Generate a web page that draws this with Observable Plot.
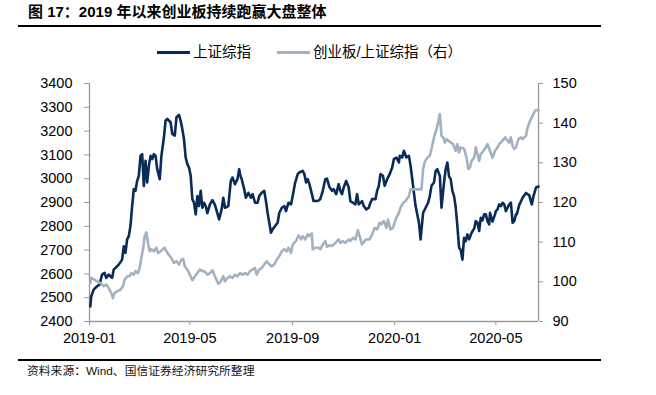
<!DOCTYPE html>
<html>
<head>
<meta charset="utf-8">
<script src="https://cdn.jsdelivr.net/npm/d3@7"></script>
<script src="https://cdn.jsdelivr.net/npm/@observablehq/plot@0.6"></script>
<style>
  body { margin: 0; background: #fff; }
  #wrap { position: relative; width: 656px; height: 395px; overflow: hidden; font-family: "Liberation Sans", Arial, "Noto Sans CJK SC", sans-serif; }
  #chart { position: absolute; left: 0; top: 0; z-index: 0; }
  .ov { position: absolute; z-index: 1; white-space: nowrap; }
  #title { left: 28px; top: 3px; font-size: 15px; line-height: 17px; font-weight: bold; color: #000; }
  .rule { left: 18px; width: 583px; height: 1.5px; background: #000; }
  .leg { top: 44px; font-size: 14.5px; line-height: 16px; color: #000; }
  .sw { position: absolute; height: 3px; }
  #src { left: 27px; top: 364px; font-size: 11.8px; line-height: 14px; color: #111; }
</style>
</head>
<body>
<div id="wrap">
  <div id="chart"></div>
  <div class="ov" id="title">图 17：2019 年以来创业板持续跑赢大盘整体</div>
  <div class="ov rule" style="top:25px"></div>
  <div class="ov sw" id="sw1" style="left:157px; top:51px; width:33px;"></div>
  <div class="ov leg" id="lg1" style="left:193px;"></div>
  <div class="ov sw" id="sw2" style="left:277px; top:51px; width:33px;"></div>
  <div class="ov leg" id="lg2" style="left:313px;"></div>
  <div class="ov rule" style="top:359px"></div>
  <div class="ov" id="src">资料来源：Wind、国信证券经济研究所整理</div>
</div>
<script>
// ---------- data ----------
const seriesNames = ["上证综指", "创业板/上证综指（右）"];
const seriesColors = ["#0a2a58", "#a3b2c2"];

const leftTicks = [2400, 2500, 2600, 2700, 2800, 2900, 3000, 3100, 3200, 3300, 3400];
const rightTicks = [90, 100, 110, 120, 130, 140, 150];
const xTickLabels = ["2019-01", "2019-05", "2019-09", "2020-01", "2020-05"];
const xStart = "2019-01-01";
const xEnd = "2020-06-21";

const shDates = [
"2019-01-02","2019-01-03","2019-01-06","2019-01-10","2019-01-13","2019-01-16","2019-01-19","2019-01-21","2019-01-24","2019-01-28",
"2019-01-30","2019-02-05","2019-02-09","2019-02-11","2019-02-13","2019-02-15","2019-02-17","2019-02-19","2019-02-21","2019-02-23",
"2019-02-25","2019-02-27","2019-03-01","2019-03-03","2019-03-05","2019-03-07","2019-03-09","2019-03-11","2019-03-13","2019-03-15",
"2019-03-17","2019-03-19","2019-03-21","2019-03-23","2019-03-26","2019-03-28","2019-03-31","2019-04-02","2019-04-04","2019-04-08",
"2019-04-10","2019-04-13","2019-04-15","2019-04-18","2019-04-20","2019-04-22","2019-04-24","2019-04-26","2019-04-28","2019-04-30",
"2019-05-02","2019-05-04","2019-05-06","2019-05-08","2019-05-10","2019-05-12","2019-05-14","2019-05-16","2019-05-18","2019-05-20",
"2019-05-22","2019-05-25","2019-05-28","2019-05-31","2019-06-01","2019-06-05","2019-06-08","2019-06-10","2019-06-12","2019-06-16",
"2019-06-19","2019-06-21","2019-06-24","2019-06-27","2019-06-29","2019-06-30","2019-07-02","2019-07-05","2019-07-07","2019-07-10",
"2019-07-13","2019-07-15","2019-07-18","2019-07-21","2019-07-23","2019-07-26","2019-07-29","2019-07-31","2019-08-02","2019-08-04",
"2019-08-06","2019-08-08","2019-08-11","2019-08-14","2019-08-16","2019-08-19","2019-08-22","2019-08-24","2019-08-27","2019-08-30",
"2019-09-01","2019-09-04","2019-09-07","2019-09-09","2019-09-13","2019-09-15","2019-09-17","2019-09-19","2019-09-21","2019-09-24",
"2019-09-26","2019-10-01","2019-10-04","2019-10-07","2019-10-10","2019-10-12","2019-10-15","2019-10-18","2019-10-20","2019-10-23",
"2019-10-26","2019-10-28","2019-10-30","2019-11-01","2019-11-04","2019-11-07","2019-11-09","2019-11-12","2019-11-15","2019-11-17",
"2019-11-19","2019-11-23","2019-11-25","2019-11-28","2019-12-01","2019-12-03","2019-12-05","2019-12-09","2019-12-11","2019-12-13",
"2019-12-15","2019-12-18","2019-12-20","2019-12-23","2019-12-26","2019-12-29","2019-12-31","2020-01-03","2020-01-06","2020-01-07",
"2020-01-10","2020-01-12","2020-01-15","2020-01-18","2020-01-20","2020-01-23","2020-01-26","2020-01-30","2020-02-01","2020-02-04",
"2020-02-07","2020-02-10","2020-02-12","2020-02-14","2020-02-17","2020-02-19","2020-02-21","2020-02-24","2020-02-26","2020-02-29",
"2020-03-02","2020-03-04","2020-03-06","2020-03-08","2020-03-10","2020-03-12","2020-03-14","2020-03-16","2020-03-18","2020-03-20",
"2020-03-22","2020-03-24","2020-03-26","2020-03-28","2020-03-30","2020-04-02","2020-04-05","2020-04-07","2020-04-09","2020-04-11",
"2020-04-13","2020-04-15","2020-04-17","2020-04-19","2020-04-21","2020-04-23","2020-04-24","2020-04-27","2020-04-30","2020-05-01",
"2020-05-03","2020-05-05","2020-05-07","2020-05-09","2020-05-11","2020-05-13","2020-05-15","2020-05-17","2020-05-19","2020-05-21",
"2020-05-23","2020-05-25","2020-05-26","2020-05-29","2020-06-02","2020-06-06","2020-06-10","2020-06-13","2020-06-15","2020-06-18",
"2020-06-21"
];
const shValues = [
2463,2505,2534,2548,2555,2597,2604,2583,2597,2583,
2618,2639,2660,2716,2688,2745,2759,2801,2885,2956,
2949,2991,3012,3096,3103,2970,3075,2984,3054,3096,
3082,3103,3096,3040,2998,3096,3174,3244,3251,3237,
3188,3181,3258,3268,3244,3209,3166,3089,3061,3047,
3012,2914,2899,2850,2927,2885,2949,2878,2899,2885,
2855,2892,2910,2890,2878,2829,2871,2920,2878,2885,
2991,3005,2977,2998,3040,3019,2998,2956,2920,2941,
2920,2935,2899,2899,2927,2941,2949,2906,2857,2815,
2773,2787,2801,2815,2857,2878,2885,2864,2899,2892,
2927,2984,3019,3026,3033,3019,2984,2998,2977,2935,
2906,2906,2914,2949,2998,3000,2965,2949,2956,2935,
2977,2949,2935,2963,2991,2963,2906,2899,2892,2935,
2892,2906,2885,2871,2878,2899,2914,2914,2949,2970,
3019,3012,2970,2998,3019,3047,3082,3089,3068,3096,
3089,3117,3089,3096,3054,2970,2885,2815,2745,2857,
2878,2899,2927,2970,2984,3033,3040,3012,2878,2984,
3040,3068,3010,2998,2949,2927,2880,2800,2710,2700,
2660,2752,2738,2766,2745,2773,2790,2822,2815,2780,
2836,2825,2850,2850,2822,2808,2857,2820,2850,2864,
2871,2892,2885,2899,2892,2864,2878,2892,2899,2815,
2822,2850,2850,2890,2920,2940,2930,2892,2927,2963,
2967
];

const ratioDates = [
"2019-01-02","2019-01-03","2019-01-06","2019-01-10","2019-01-14","2019-01-18","2019-01-21","2019-01-24","2019-01-27","2019-01-29",
"2019-01-31","2019-02-03","2019-02-07","2019-02-10","2019-02-12","2019-02-15","2019-02-18","2019-02-20","2019-02-23","2019-02-25",
"2019-02-28","2019-03-02","2019-03-04","2019-03-06","2019-03-08","2019-03-10","2019-03-12","2019-03-14","2019-03-16","2019-03-19",
"2019-03-22","2019-03-24","2019-03-27","2019-03-30","2019-04-01","2019-04-04","2019-04-07","2019-04-09","2019-04-12","2019-04-15",
"2019-04-18","2019-04-21","2019-04-23","2019-04-25","2019-04-28","2019-05-01","2019-05-04","2019-05-07","2019-05-10","2019-05-13",
"2019-05-16","2019-05-19","2019-05-22","2019-05-25","2019-05-28","2019-05-31","2019-06-04","2019-06-07","2019-06-10","2019-06-12",
"2019-06-15","2019-06-18","2019-06-21","2019-06-24","2019-06-27","2019-06-30","2019-07-03","2019-07-06","2019-07-09","2019-07-12",
"2019-07-15","2019-07-18","2019-07-20","2019-07-23","2019-07-26","2019-07-29","2019-08-01","2019-08-04","2019-08-07","2019-08-10",
"2019-08-13","2019-08-16","2019-08-19","2019-08-22","2019-08-25","2019-08-27","2019-08-30","2019-09-01","2019-09-05","2019-09-08",
"2019-09-11","2019-09-13","2019-09-16","2019-09-19","2019-09-21","2019-09-24","2019-09-25","2019-09-28","2019-10-02","2019-10-04",
"2019-10-07","2019-10-10","2019-10-12","2019-10-15","2019-10-18","2019-10-22","2019-10-26","2019-10-28","2019-10-31","2019-11-03",
"2019-11-07","2019-11-09","2019-11-12","2019-11-15","2019-11-18","2019-11-20","2019-11-23","2019-11-26","2019-11-28","2019-12-02",
"2019-12-05","2019-12-08","2019-12-11","2019-12-14","2019-12-16","2019-12-19","2019-12-22","2019-12-24","2019-12-27","2019-12-30",
"2020-01-02","2020-01-06","2020-01-08","2020-01-11","2020-01-14","2020-01-18","2020-01-20","2020-01-22","2020-01-26","2020-01-30",
"2020-02-02","2020-02-04","2020-02-06","2020-02-09","2020-02-12","2020-02-14","2020-02-17","2020-02-20","2020-02-22","2020-02-24",
"2020-02-26","2020-02-28","2020-03-01","2020-03-03","2020-03-05","2020-03-08","2020-03-11","2020-03-14","2020-03-16","2020-03-18",
"2020-03-20","2020-03-24","2020-03-27","2020-03-29","2020-03-31","2020-04-02","2020-04-05","2020-04-07","2020-04-09","2020-04-11",
"2020-04-13","2020-04-16","2020-04-19","2020-04-21","2020-04-24","2020-04-27","2020-04-30","2020-05-03","2020-05-05","2020-05-09",
"2020-05-12","2020-05-15","2020-05-17","2020-05-19","2020-05-21","2020-05-23","2020-05-25","2020-05-28","2020-05-31","2020-06-02",
"2020-06-06","2020-06-08","2020-06-11","2020-06-14","2020-06-17","2020-06-20","2020-06-21"
];
const ratioValues = [
99.7,101.0,100.7,100.1,99.7,98.9,99.3,98.4,97.2,95.9,
97.2,97.6,98.0,98.9,100.6,101.4,101.4,102.2,101.8,102.7,
102.2,103.5,106.0,108.2,111.5,112.5,109.8,107.7,108.2,107.7,
108.6,107.3,107.7,108.2,108.6,107.3,106.5,106.0,104.8,105.2,
104.4,105.6,105.8,103.9,103.1,101.8,100.4,101.4,102.2,103.1,
102.7,102.6,101.8,102.2,102.9,101.4,99.5,100.1,101.4,100.1,
101.0,101.4,101.0,101.8,101.4,102.2,101.8,102.2,101.8,102.7,
103.1,103.5,101.8,103.1,103.5,104.4,105.2,104.4,103.9,104.4,
105.6,106.5,107.7,108.2,107.7,108.6,107.3,109.4,110.3,111.7,
110.7,111.5,110.7,112.0,111.5,112.2,108.2,108.6,108.6,108.2,
109.4,110.3,108.8,109.2,109.0,109.8,110.7,109.8,110.3,109.8,
110.7,110.3,111.1,110.7,113.0,111.5,109.4,110.3,110.7,110.7,
112.0,113.6,113.2,114.9,114.5,115.3,113.6,115.7,113.2,113.6,
115.7,117.4,118.7,119.9,120.4,121.6,123.3,123.3,123.3,123.3,
123.3,128.4,130.3,131.3,131.8,133.5,136.4,138.5,140.2,142.3,
136.8,136.4,135.1,136.0,135.6,135.1,134.7,133.0,134.7,132.6,
133.9,133.5,131.3,128.4,128.8,130.5,131.3,133.9,132.2,130.5,
132.2,133.0,133.9,134.7,133.0,131.3,133.0,133.9,134.7,135.6,
136.4,135.6,135.1,136.4,134.3,133.5,133.9,136.0,136.4,136.0,
136.8,138.9,140.6,141.9,143.2,143.3,143.2
];

// ---------- build ----------
const parse = d3.utcParse("%Y-%m-%d");
const lMin = leftTicks[0], lMax = leftTicks[leftTicks.length - 1];
const rMin = rightTicks[0], rMax = rightTicks[rightTicks.length - 1];
const toLeft = r => lMin + (r - rMin) * (lMax - lMin) / (rMax - rMin);
const toRight = l => rMin + (l - lMin) * (rMax - rMin) / (lMax - lMin);

const sh = shDates.map((d, i) => ({date: parse(d), value: shValues[i]}));
const ratio = ratioDates.map((d, i) => ({date: parse(d), value: toLeft(ratioValues[i])}));
const x0 = parse(xStart), x1 = parse(xEnd);
const axisColor = "#9a9a9a";

const chart = Plot.plot({
  width: 656,
  height: 395,
  marginLeft: 89,
  marginRight: 118,
  marginTop: 83,
  marginBottom: 74,
  style: {fontFamily: "'Liberation Sans', Arial, sans-serif", fontSize: "14.5px", color: "#000", background: "transparent"},
  x: {type: "utc", domain: [x0, x1], axis: null},
  y: {domain: [lMin, lMax], axis: null},
  marks: [
    Plot.ruleY([lMin], {stroke: axisColor, strokeWidth: 1.3}),
    Plot.ruleX([x0], {stroke: axisColor, strokeWidth: 1.3}),
    Plot.ruleX([x1], {stroke: axisColor, strokeWidth: 1.3}),
    Plot.axisY({anchor: "left", ticks: leftTicks, tickSize: 5, tickPadding: 12, stroke: axisColor, fill: "#000", label: null, tickFormat: d => String(d)}),
    Plot.axisY({anchor: "right", ticks: rightTicks.map(toLeft), tickSize: 4, tickPadding: 10, stroke: axisColor, fill: "#000", label: null, tickFormat: d => String(Math.round(toRight(d)))}),
    Plot.axisX({anchor: "bottom", ticks: xTickLabels.map(s => parse(s + "-01")), tickSize: 4, tickPadding: 7, stroke: axisColor, fill: "#000", label: null, tickFormat: d3.utcFormat("%Y-%m")}),
    Plot.lineY(sh, {x: "date", y: "value", stroke: seriesColors[0], strokeWidth: 2.6, strokeLinejoin: "round"}),
    Plot.lineY(ratio, {x: "date", y: "value", stroke: seriesColors[1], strokeWidth: 2.6, strokeLinejoin: "round"})
  ]
});
document.getElementById("chart").appendChild(chart);

document.getElementById("sw1").style.background = seriesColors[0];
document.getElementById("sw2").style.background = seriesColors[1];
document.getElementById("lg1").textContent = seriesNames[0];
document.getElementById("lg2").textContent = seriesNames[1];
</script>
</body>
</html>
